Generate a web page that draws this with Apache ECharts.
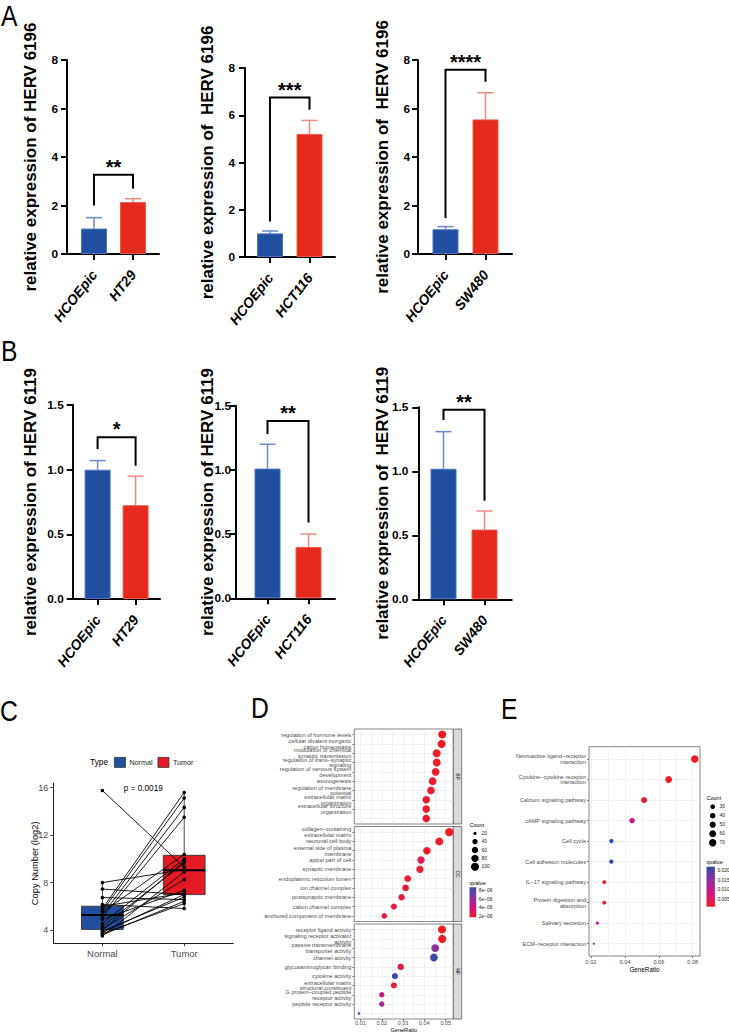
<!DOCTYPE html>
<html>
<head>
<meta charset="utf-8">
<script src="https://cdn.jsdelivr.net/npm/echarts@6/dist/echarts.min.js"></script>
<style>
html, body { margin: 0; padding: 0; background: #fff; }
#main { width: 729px; height: 1032px; }
</style>
</head>
<body>
<div id="main"></div>
<script>
// ---------- A / B : relative expression (qPCR) ----------
var aCats = [['HCOEpic', 'HT29'], ['HCOEpic', 'HCT116'], ['HCOEpic', 'SW480']];
var a6196Mean = [[1.05, 2.14], [1.00, 5.21], [1.02, 5.55]];
var a6196Err = [[0.45, 0.14], [0.10, 0.57], [0.11, 1.10]];
var aStars = ['**', '***', '****'];
var aBracket = [[3.27, 2.0, 2.7], [6.75, 1.5, 6.23], [7.6, 1.48, 7.1]]; // top, left leg end, right leg end
var aTicks = { max: 8, step: 2 };

var bCats = [['HCOEpic', 'HT29'], ['HCOEpic', 'HCT116'], ['HCOEpic', 'SW480']];
var b6119Mean = [[1.00, 0.725], [1.01, 0.40], [1.02, 0.545]];
var b6119Err = [[0.07, 0.225], [0.19, 0.10], [0.29, 0.145]];
var bStars = ['*', '**', '**'];
var bBracket = [[1.25, 1.16, 1.03], [1.38, 1.28, 0.59], [1.48, 1.40, 0.77]];
var bTicks = { max: 1.5, step: 0.5 };

// ---------- C : copy number, paired ----------
var cCats = ['Normal', 'Tumor'];
var cNormal = [15.75, 8.0, 7.46, 6.74, 6.15, 6.0, 5.8, 5.6, 5.5, 5.3, 5.1, 4.9, 4.56, 4.3, 4.1, 4.0, 3.9, 3.8, 3.7, 3.6, 3.5];
var cTumor = [9.3, 9.1, 6.99, 6.57, 5.82, 7.13, 15.59, 15.12, 10.37, 14.33, 13.5, 7.35, 10.0, 9.64, 8.25, 9.8, 6.79, 7.0, 6.24, 6.43, 8.9];
var cBoxNormal = [3.5, 4.06, 5.28, 6.01, 8.0];   // min, q1, median, q3, max
var cBoxTumor = [5.8, 6.99, 9.05, 10.3, 15.5];
var cYTicks = [4, 8, 12, 16];
var cPText = 'p = 0.0019';

// ---------- D : GO enrichment ----------
var dBPTerms = ['regulation of hormone levels', 'cellular divalent inorganic\ncation homeostasis', 'modulation of chemical\nsynaptic transmission',
  'regulation of trans\u2212synaptic\nsignaling', 'regulation of nervous system\ndevelopment', 'axonogenesis', 'regulation of membrane\npotential',
  'extracellular matrix\norganization', 'extracellular structure\norganization', 'external encapsulating\nstructure organization'];
var dBPRatio = [0.0484, 0.0481, 0.0458, 0.0458, 0.0453, 0.0439, 0.0431, 0.0409, 0.0409, 0.0409];
var dBPCount = [100, 100, 95, 95, 94, 91, 89, 85, 85, 85];
var dBPQ = [1.7e-6, 1.7e-6, 1.8e-6, 1.8e-6, 1.9e-6, 1.9e-6, 2.0e-6, 2.0e-6, 2.0e-6, 2.1e-6];

var dCCTerms = ['collagen\u2212containing\nextracellular matrix', 'neuronal cell body', 'external side of plasma\nmembrane', 'apical part of cell',
  'synaptic membrane', 'endoplasmic reticulum lumen', 'ion channel complex', 'postsynaptic membrane', 'cation channel complex', 'anchored component of membrane'];
var dCCRatio = [0.0517, 0.0470, 0.0412, 0.0384, 0.0379, 0.0322, 0.0312, 0.0293, 0.0257, 0.0212];
var dCCCount = [107, 97, 85, 79, 78, 67, 65, 61, 53, 44];
var dCCQ = [1.7e-6, 1.8e-6, 1.9e-6, 3.0e-6, 2.0e-6, 2.1e-6, 2.1e-6, 2.2e-6, 2.3e-6, 2.4e-6];

var dMFTerms = ['receptor ligand activity', 'signaling receptor activator\nactivity', 'passive transmembrane\ntransporter activity', 'channel activity',
  'glycosaminoglycan binding', 'cytokine activity', 'extracellular matrix\nstructural constituent', 'G protein\u2212coupled peptide\nreceptor activity',
  'peptide receptor activity', 'extracellular matrix\nstructural constituent\nconferring tensile strength'];
var dMFRatio = [0.0483, 0.0484, 0.0451, 0.0445, 0.0289, 0.0262, 0.0257, 0.0200, 0.0200, 0.0093];
var dMFCount = [100, 100, 93, 92, 60, 54, 53, 41, 41, 19];
var dMFQ = [1.7e-6, 1.7e-6, 6.4e-6, 8.5e-6, 2.3e-6, 8.4e-6, 2.4e-6, 4.2e-6, 6.0e-6, 8.8e-6];

var dStrips = ['BP', 'CC', 'MF'];
var dXTicks = [0.01, 0.02, 0.03, 0.04, 0.05];
var dXGridLines = [0.01, 0.015, 0.02, 0.025, 0.03, 0.035, 0.04, 0.045, 0.05];
var dLegendCounts = [20, 40, 60, 80, 100];
var dQTicks = [8e-6, 6e-6, 4e-6, 2e-6];
var dQLabels = ['8e\u221206', '6e\u221206', '4e\u221206', '2e\u221206'];

// ---------- E : KEGG enrichment ----------
var eTerms = ['Neuroactive ligand\u2212receptor\ninteraction', 'Cytokine\u2212cytokine receptor\ninteraction', 'Calcium signaling pathway',
  'cAMP signaling pathway', 'Cell cycle', 'Cell adhesion molecules', 'IL\u221217 signaling pathway', 'Protein digestion and\nabsorption',
  'Salivary secretion', 'ECM\u2212receptor interaction'];
var eRatio = [0.0812, 0.0658, 0.0513, 0.0442, 0.0320, 0.0320, 0.0278, 0.0278, 0.0237, 0.0216];
var eCount = [72, 58, 46, 39, 28, 28, 25, 25, 21, 19];
var eQ = [0.0009, 0.0012, 0.0015, 0.0100, 0.0223, 0.0215, 0.0018, 0.0020, 0.0090, 0.0160];
var eXTicks = [0.02, 0.04, 0.06, 0.08];
var eXGridLines = [0.02, 0.03, 0.04, 0.05, 0.06, 0.07, 0.08];
var eLegendCounts = [30, 40, 50, 60, 70];
var eQTicks = [0.020, 0.015, 0.010, 0.005];

// ---------- styles ----------
var FONT = '"Liberation Sans", Arial, Helvetica, sans-serif';
var barFill = ['#214fa0', '#e32a1d'];
var barEdge = ['#4a72c0', '#f0584c'];
var errColor = ['#6a8ad0', '#f08a80'];
var boxFill = { Normal: '#2150a0', Tumor: '#e41a22' };
var qColors = ['#ee1d25', '#d4147d', '#8e2f9e', '#2f4ea6'];

var grids = [], xAxes = [], yAxes = [], series = [], graphics = [], visualMaps = [];

function addGrid(left, gTop, right, bottom, extra) {
  var g = { left: left, top: gTop, width: right - left, height: bottom - gTop, outerBoundsMode: 'none', containLabel: false };
  for (var key in extra) g[key] = extra[key];
  grids.push(g);
  return grids.length - 1;
}

// ---------- bar panels ----------
var aLayout = [
  { left: 67, right: 159, top: 60, bottom: 254, c0: 94, c1: 133, nameGap: 28.5, labMargin: 9 },
  { left: 245, right: 335, top: 68, bottom: 257, c0: 270, c1: 309.5, nameGap: 29.5, labMargin: 10 },
  { left: 418, right: 512, top: 60, bottom: 254, c0: 445.5, c1: 485.5, nameGap: 27.5, labMargin: 8 }
];
var bLayout = [
  { left: 72.7, right: 160, top: 405, bottom: 599, c0: 97.6, c1: 135.6, nameGap: 34, labMargin: 9 },
  { left: 236, right: 335, top: 405.7, bottom: 598.3, c0: 267.5, c1: 308.5, nameGap: 20.5, labMargin: 5 },
  { left: 418.3, right: 511.7, top: 407.3, bottom: 599.3, c0: 443.5, c1: 484.5, nameGap: 27, labMargin: 10 }
];

function barPanel(lay, cats, means, errs, stars, bracket, ticks, yName, dec) {
  var gi = addGrid(lay.left, lay.top, lay.right, lay.bottom, {});
  var ppu = lay.c1 - lay.c0;
  var axisLineStyle = { color: '#000', width: 2 };
  xAxes.push({
    gridIndex: gi, type: 'value',
    min: -(lay.c0 - lay.left) / ppu, max: 1 + (lay.right - lay.c1) / ppu,
    axisLine: { show: true, onZero: false, lineStyle: axisLineStyle },
    axisTick: { show: true, customValues: [0, 1], length: 6, lineStyle: axisLineStyle },
    axisLabel: {
      customValues: [0, 1], formatter: function (v) { return cats[Math.round(v)]; },
      rotate: 52, margin: 18, fontSize: 14, fontWeight: 'bold', fontStyle: 'italic', color: '#000', fontFamily: FONT
    },
    splitLine: { show: false }
  });
  var xi = xAxes.length - 1;
  yAxes.push({
    gridIndex: gi, type: 'value', min: 0, max: ticks.max, interval: ticks.step,
    name: yName, nameLocation: 'middle', nameGap: lay.nameGap, nameMoveOverlap: false,
    nameTextStyle: { fontSize: 17, fontWeight: 'bold', color: '#000', fontFamily: FONT },
    axisLine: { show: true, onZero: false, lineStyle: axisLineStyle },
    axisTick: { show: true, length: 6, lineStyle: axisLineStyle },
    axisLabel: { formatter: function (v) { return v.toFixed(dec); }, margin: lay.labMargin, fontSize: 11.8, fontWeight: 'bold', color: '#000', fontFamily: FONT },
    splitLine: { show: false }
  });
  var yi = yAxes.length - 1;

  series.push({
    type: 'bar', xAxisIndex: xi, yAxisIndex: yi, barWidth: 26, silent: true,
    data: means.map(function (m, i) {
      return { value: [i, m], itemStyle: { color: barFill[i], borderColor: barEdge[i], borderWidth: 1 } };
    })
  });
  series.push({
    type: 'custom', xAxisIndex: xi, yAxisIndex: yi, silent: true,
    data: means.map(function (m, i) { return [i, m, errs[i]]; }),
    renderItem: function (params, api) {
      var i = api.value(0), m = api.value(1), e = api.value(2);
      var p0 = api.coord([i, m]), p1 = api.coord([i, m + e]);
      var col = errColor[i];
      return { type: 'group', children: [
        { type: 'line', shape: { x1: p0[0], y1: p0[1], x2: p1[0], y2: p1[1] }, style: { stroke: col, lineWidth: 1.5 } },
        { type: 'line', shape: { x1: p1[0] - 8, y1: p1[1], x2: p1[0] + 8, y2: p1[1] }, style: { stroke: col, lineWidth: 1.5 } }
      ] };
    }
  });
  series.push({
    type: 'custom', xAxisIndex: xi, yAxisIndex: yi, silent: true,
    data: [[0, 1, bracket[0], bracket[1], bracket[2]]],
    renderItem: function (params, api) {
      var a = api.coord([api.value(0), api.value(2)]), b = api.coord([api.value(1), api.value(2)]);
      var l = api.coord([api.value(0), api.value(3)]), r = api.coord([api.value(1), api.value(4)]);
      return { type: 'group', children: [
        { type: 'polyline', shape: { points: [[l[0], l[1]], [a[0], a[1]], [b[0], b[1]], [r[0], r[1]]] }, style: { stroke: '#000', lineWidth: 2, fill: null } },
        { type: 'text', x: (a[0] + b[0]) / 2, y: a[1] - 8, style: { text: stars, fontSize: 20, fontWeight: 'bold', fill: '#000', align: 'center', verticalAlign: 'middle', fontFamily: FONT } }
      ] };
    }
  });
}

for (var k = 0; k < 3; k++) {
  barPanel(aLayout[k], aCats[k], a6196Mean[k], a6196Err[k], aStars[k], aBracket[k], aTicks,
    k === 0 ? 'relative expression of HERV 6196' : 'relative expression of  HERV 6196', 0);
  barPanel(bLayout[k], bCats[k], b6119Mean[k], b6119Err[k], bStars[k], bBracket[k], bTicks,
    k === 2 ? 'relative expression of  HERV 6119' : 'relative expression of HERV 6119', 1);
}

// ---------- panel C ----------
(function () {
  var gi = addGrid(53.3, 783.3, 233.3, 943.3, {});
  var lineSt = { color: '#1a1a1a', width: 1 };
  xAxes.push({
    gridIndex: gi, type: 'value', min: 0.4, max: 2.6,
    axisLine: { show: true, onZero: false, lineStyle: lineSt },
    axisTick: { show: true, customValues: [1, 2], length: 3, lineStyle: { color: '#333' } },
    axisLabel: { customValues: [1, 2], formatter: function (v) { return cCats[Math.round(v) - 1]; }, margin: 5, fontSize: 9.5, color: '#4d4d4d', fontFamily: FONT },
    splitLine: { show: false }
  });
  var xi = xAxes.length - 1;
  yAxes.push({
    gridIndex: gi, type: 'value', min: 2.89, max: 16.36,
    name: 'Copy Number (log2)', nameLocation: 'middle', nameGap: 14, nameMoveOverlap: false,
    nameTextStyle: { fontSize: 9.3, color: '#000', fontFamily: FONT },
    axisLine: { show: true, onZero: false, lineStyle: lineSt },
    axisTick: { show: true, customValues: cYTicks, length: 3, lineStyle: { color: '#333' } },
    axisLabel: { customValues: cYTicks, margin: 5, fontSize: 9, color: '#4d4d4d', fontFamily: FONT },
    splitLine: { show: false }
  });
  var yi = yAxes.length - 1;

  function renderBox(params, api) {
    var x = api.value(0);
    var half = api.size([0.255, 0])[0];
    var pMin = api.coord([x, api.value(1)]), pQ1 = api.coord([x, api.value(2)]), pMed = api.coord([x, api.value(3)]);
    var pQ3 = api.coord([x, api.value(4)]), pMax = api.coord([x, api.value(5)]);
    return { type: 'group', children: [
      { type: 'line', shape: { x1: pMin[0], y1: pMin[1], x2: pQ1[0], y2: pQ1[1] }, style: { stroke: '#333', lineWidth: 0.9 } },
      { type: 'line', shape: { x1: pQ3[0], y1: pQ3[1], x2: pMax[0], y2: pMax[1] }, style: { stroke: '#333', lineWidth: 0.9 } },
      { type: 'rect', shape: { x: pQ1[0] - half, y: pQ3[1], width: 2 * half, height: pQ1[1] - pQ3[1] }, style: { fill: api.visual('color'), stroke: '#333', lineWidth: 0.9 } },
      { type: 'line', shape: { x1: pMed[0] - half, y1: pMed[1], x2: pMed[0] + half, y2: pMed[1] }, style: { stroke: '#000', lineWidth: 2 } }
    ] };
  }
  series.push({ type: 'custom', name: 'Normal', xAxisIndex: xi, yAxisIndex: yi, itemStyle: { color: boxFill.Normal, borderColor: '#333', borderWidth: 0.8 },
    data: [[1].concat(cBoxNormal)], renderItem: renderBox, silent: true });
  series.push({ type: 'custom', name: 'Tumor', xAxisIndex: xi, yAxisIndex: yi, itemStyle: { color: boxFill.Tumor, borderColor: '#333', borderWidth: 0.8 },
    data: [[2].concat(cBoxTumor)], renderItem: renderBox, silent: true });
  series.push({
    type: 'custom', xAxisIndex: xi, yAxisIndex: yi, silent: true,
    data: cNormal.map(function (n, i) { return [n, cTumor[i]]; }),
    renderItem: function (params, api) {
      var p0 = api.coord([1, api.value(0)]), p1 = api.coord([2, api.value(1)]);
      return { type: 'line', shape: { x1: p0[0], y1: p0[1], x2: p1[0], y2: p1[1] }, style: { stroke: '#000', lineWidth: 0.9 } };
    }
  });
  series.push({
    type: 'scatter', xAxisIndex: xi, yAxisIndex: yi, silent: true, symbolSize: 3.6, itemStyle: { color: '#000', opacity: 1 },
    data: cNormal.map(function (n) { return [1, n]; }).concat(cTumor.map(function (t) { return [2, t]; }))
  });
  series.push({
    type: 'custom', xAxisIndex: xi, yAxisIndex: yi, silent: true, data: [[1.5, 15.95]],
    renderItem: function (params, api) {
      var p = api.coord([api.value(0), api.value(1)]);
      return { type: 'text', x: p[0], y: p[1], style: { text: cPText, fontSize: 8.2, fill: '#000', align: 'center', verticalAlign: 'middle', fontFamily: FONT } };
    }
  });
})();

// ---------- dot plots (D, E) ----------
function sizeScale(counts, base, span) {
  var mn = Math.min.apply(null, counts), mx = Math.max.apply(null, counts);
  return function (c) { return base + span * Math.sqrt(Math.max(0, (c - mn) / (mx - mn))); };
}
var dSize = sizeScale(dBPCount.concat(dCCCount, dMFCount), 2.5, 5.8);
var eSize = sizeScale(eCount, 2.2, 5.3);

function dotPanel(box, terms, ratio, count, q, xr, xTicks, xGrid, showX, sizeFn, xName, ax) {
  var gi = addGrid(box.left, box.top, box.right, box.bottom, { show: true, borderColor: '#4d4d4d', borderWidth: 0.7, backgroundColor: '#fff' });
  xAxes.push({
    gridIndex: gi, type: 'value', position: 'bottom', min: xr[0], max: xr[1],
    axisLine: { show: false },
    axisTick: { show: showX, customValues: xTicks, length: 2, lineStyle: { color: '#333', width: 0.6 } },
    axisLabel: { show: showX, customValues: xTicks, formatter: function (v) { return v.toFixed(2); }, margin: ax.labMargin, fontSize: ax.labSize, color: '#4d4d4d', fontFamily: FONT },
    name: showX ? xName : '', nameLocation: 'middle', nameGap: ax.nameGap, nameTextStyle: { fontSize: ax.nameSize, color: '#000', fontFamily: FONT },
    splitLine: { show: false }
  });
  var xi = xAxes.length - 1;
  xAxes.push({
    gridIndex: gi, type: 'value', position: 'top', min: xr[0], max: xr[1],
    axisLine: { show: false }, axisTick: { show: false, customValues: xGrid }, axisLabel: { show: false },
    splitLine: { show: true, lineStyle: { color: '#e8e8e8', width: 0.6 } }
  });
  var pos = terms.map(function (t, i) { return i + 1; });
  yAxes.push({
    gridIndex: gi, type: 'value', inverse: true, min: 0.4, max: terms.length + 0.6,
    axisLine: { show: false },
    axisTick: { show: true, customValues: pos, length: 2, lineStyle: { color: '#333', width: 0.6 } },
    axisLabel: { customValues: pos, formatter: function (v) { return terms[Math.round(v) - 1]; }, margin: 3, fontSize: 5.6, lineHeight: 5.9, color: '#4d4d4d', fontFamily: FONT, align: 'right' },
    splitLine: { show: true, lineStyle: { color: '#e8e8e8', width: 0.6 } }
  });
  var yi = yAxes.length - 1;
  series.push({
    type: 'scatter', xAxisIndex: xi, yAxisIndex: yi, silent: true,
    data: ratio.map(function (r, i) { return [r, i + 1, count[i], q[i]]; }),
    symbolSize: function (v) { return sizeFn(v[2]); },
    itemStyle: { opacity: 1 }
  });
  return series.length - 1;
}

var dSeries = [];
var dFacets = [[dBPTerms, dBPRatio, dBPCount, dBPQ], [dCCTerms, dCCRatio, dCCCount, dCCQ], [dMFTerms, dMFRatio, dMFCount, dMFQ]];
var D_LEFT = 354.3, D_RIGHT = 453.3, D_TOP = 729, D_H = 95, D_STEP = 97.5;
for (var f = 0; f < 3; f++) {
  var facetTop = D_TOP + f * D_STEP;
  dSeries.push(dotPanel({ left: D_LEFT, right: D_RIGHT, top: facetTop, bottom: facetTop + D_H }, dFacets[f][0], dFacets[f][1], dFacets[f][2], dFacets[f][3],
    [0.0071, 0.0536], dXTicks, dXGridLines, f === 2, dSize, 'GeneRatio', { labMargin: 1.8, labSize: 5.4, nameGap: 6.6, nameSize: 5.6 }));
  graphics.push({ type: 'rect', shape: { x: D_RIGHT, y: facetTop, width: 8.4, height: D_H }, style: { fill: '#d9d9d9', stroke: '#4d4d4d', lineWidth: 0.7 } });
  graphics.push({ type: 'text', x: D_RIGHT + 4.2, y: facetTop + D_H / 2, rotation: -Math.PI / 2,
    style: { text: dStrips[f], fontSize: 5, fill: '#1a1a1a', align: 'center', verticalAlign: 'middle', fontFamily: FONT } });
}
var eSeries = dotPanel({ left: 589, right: 700, top: 746.7, bottom: 956 }, eTerms, eRatio, eCount, eQ,
  [0.0188, 0.0843], eXTicks, eXGridLines, true, eSize, 'GeneRatio', { labMargin: 2.5, labSize: 5.6, nameGap: 10, nameSize: 6.3 });

var dQAll = dBPQ.concat(dCCQ, dMFQ);
var dQMin = Math.min.apply(null, dQAll), dQMax = Math.max.apply(null, dQAll);
var eQMin = Math.min.apply(null, eQ), eQMax = Math.max.apply(null, eQ);
visualMaps.push({ type: 'continuous', show: false, seriesIndex: dSeries, dimension: 3, min: dQMin, max: dQMax, inRange: { color: qColors } });
visualMaps.push({ type: 'continuous', show: false, seriesIndex: [eSeries], dimension: 3, min: eQMin, max: eQMax, inRange: { color: qColors } });

// legends for dot plots (size + colour bar)
function dotLegends(o) {
  graphics.push({ type: 'text', x: o.x, y: o.countTitleY, style: { text: 'Count', fontSize: o.fs + 0.6, fill: '#000', verticalAlign: 'middle', fontFamily: FONT } });
  o.counts.forEach(function (c, i) {
    var y = o.countY0 + i * o.countStep;
    graphics.push({ type: 'circle', shape: { cx: o.dotX, cy: y, r: o.sizeFn(c) / 2 }, style: { fill: '#000' } });
    graphics.push({ type: 'text', x: o.labX, y: y, style: { text: String(c), fontSize: o.fs, fill: '#1a1a1a', verticalAlign: 'middle', fontFamily: FONT } });
  });
  graphics.push({ type: 'text', x: o.x, y: o.qTitleY, style: { text: 'qvalue', fontSize: o.fs + 0.6, fill: '#000', verticalAlign: 'middle', fontFamily: FONT } });
  var stops = qColors.slice().reverse().map(function (c, i, arr) { return { offset: i / (arr.length - 1), color: c }; });
  graphics.push({ type: 'rect', shape: { x: o.x, y: o.barTop, width: o.barW, height: o.barH },
    style: { fill: { type: 'linear', x: 0, y: 0, x2: 0, y2: 1, colorStops: stops } } });
  o.qTicks.forEach(function (v, i) {
    var y = o.barTop + (o.qMax - v) / (o.qMax - o.qMin) * o.barH;
    graphics.push({ type: 'text', x: o.x + o.barW + 2.5, y: y, style: { text: o.qLabels[i], fontSize: o.fs, fill: '#1a1a1a', verticalAlign: 'middle', fontFamily: FONT } });
  });
}
dotLegends({ x: 469.5, countTitleY: 825, counts: dLegendCounts, countY0: 833.3, countStep: 8.35, dotX: 475, labX: 481.5, sizeFn: dSize,
  qTitleY: 883, barTop: 887.3, barW: 6.7, barH: 30, qTicks: dQTicks, qLabels: dQLabels, qMin: dQMin, qMax: dQMax, fs: 4.9 });
dotLegends({ x: 706.5, countTitleY: 798.3, counts: eLegendCounts, countY0: 806.7, countStep: 9, dotX: 712.7, labX: 719.5, sizeFn: eSize,
  qTitleY: 861.7, barTop: 866.7, barW: 8.4, barH: 40, qTicks: eQTicks, qLabels: eQTicks.map(function (v) { return v.toFixed(3); }),
  qMin: eQMin, qMax: eQMax, fs: 4.9 });

// ---------- panel letters and C legend title ----------
[['A', 1, 2], ['B', 1, 337], ['C', 0, 697], ['D', 251, 694], ['E', 501, 695]].forEach(function (p) {
  graphics.push({ type: 'text', x: p[1], y: p[2], scaleX: 0.85,
    style: { text: p[0], fontSize: 29, fill: '#000', verticalAlign: 'top', fontFamily: FONT } });
});
graphics.push({ type: 'text', x: 90, y: 762, style: { text: 'Type', fontSize: 8.4, fill: '#000', verticalAlign: 'middle', fontFamily: FONT } });

var myChart = echarts.init(document.getElementById('main'), null, { renderer: 'svg' });
myChart.setOption({
  animation: false,
  backgroundColor: '#fff',
  textStyle: { fontFamily: FONT },
  grid: grids,
  xAxis: xAxes,
  yAxis: yAxes,
  visualMap: visualMaps,
  legend: [{
    data: [{ name: 'Normal', itemStyle: { borderColor: '#333', borderWidth: 0.8 } }, { name: 'Tumor', itemStyle: { borderColor: '#333', borderWidth: 0.8 } }],
    left: 114, top: 757, itemWidth: 11, itemHeight: 10, itemGap: 5, icon: 'rect', selectedMode: false,
    textStyle: { fontSize: 7.2, color: '#222', padding: [0, 0, 0, -1] }, padding: 0
  }],
  tooltip: { show: false },
  series: series,
  graphic: graphics
});
</script>
</body>
</html>
